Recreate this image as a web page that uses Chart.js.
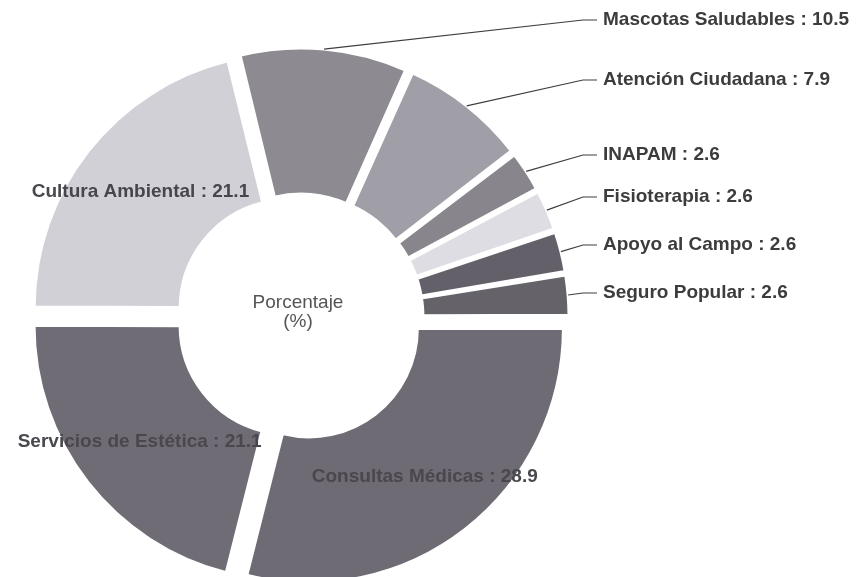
<!DOCTYPE html>
<html>
<head>
<meta charset="utf-8">
<script src="https://cdn.jsdelivr.net/npm/chart.js@4.4.1/dist/chart.umd.min.js"></script>
<style>
  html, body { margin: 0; padding: 0; background: #fff; }
  #wrap { position: relative; width: 865px; height: 577px; }
</style>
</head>
<body>
<div id="wrap"><canvas id="porcentaje-chart"></canvas></div>
<script>
var categories = [
  "Consultas Médicas",
  "Servicios de Estética",
  "Cultura Ambiental",
  "Mascotas Saludables",
  "Atención Ciudadana",
  "INAPAM",
  "Fisioterapia",
  "Apoyo al Campo",
  "Seguro Popular",
];
var porcentajes = [28.9, 21.1, 21.1, 10.5, 7.9, 2.6, 2.6, 2.6, 2.6];
var sliceColors = [
  "#6e6b74",
  "#6f6c75",
  "#d2d0d7",
  "#8d8a92",
  "#a09ea6",
  "#88858d",
  "#dedde3",
  "#636069",
  "#65626a",
];
var centerTitle = ["Porcentaje", "(%)"];

// which slices get their label inside the ring, the rest go to the right column
var insideLabels = [0, 1, 2];
var outsideLabelY = { 3: 20, 4: 80, 5: 155, 6: 197, 7: 245, 8: 293 };

var FONT = "'Liberation Sans', Arial, sans-serif";
var EXPLODE = 15;

function labelText(i) {
  return categories[i] + " : " + porcentajes[i];
}

// chart.js moves an arc by offset/4 * (2 - sin(circumference)),
// so undo that to push every slice out by the same distance
function sliceOffset(c) {
  var total = c.dataset.data.reduce(function (a, b) { return a + b; }, 0),
    circ = (2 * Math.PI * c.dataset.data[c.dataIndex]) / total,
    fix = 1 - Math.sin(Math.min(Math.PI, circ));
  return (4 * EXPLODE) / (1 + fix);
}

var sliceLabels = {
  id: "sliceLabels",
  afterDatasetsDraw(chart) {
    var ctx = chart.ctx,
      arcs = chart.getDatasetMeta(0).data;
    ctx.save();
    ctx.font = "bold 19px " + FONT;
    ctx.textBaseline = "middle";
    arcs.forEach(function (arc, i) {
      var mid = (arc.startAngle + arc.endAngle) / 2,
        cx = arc.x,
        cy = arc.y;
      if (insideLabels.indexOf(i) >= 0) {
        var r = 203;
        ctx.textAlign = "center";
        ctx.fillStyle = i == 2 ? "#48464c" : "#4a474e";
        ctx.fillText(labelText(i), cx + r * Math.cos(mid), cy + r * Math.sin(mid));
        return;
      }
      var ro = arc.outerRadius + EXPLODE,
        sx = cx + ro * Math.cos(mid),
        sy = cy + ro * Math.sin(mid),
        ly = outsideLabelY[i],
        ex = 597,
        elbow = Math.max(sx + 10, 583);
      ctx.strokeStyle = "#3e3e3e";
      ctx.lineWidth = 1.2;
      ctx.beginPath();
      ctx.moveTo(sx, sy);
      ctx.lineTo(elbow, ly);
      ctx.lineTo(ex, ly);
      ctx.stroke();
      ctx.textAlign = "left";
      ctx.fillStyle = "#3c3c3c";
      ctx.fillText(labelText(i), ex + 6, ly);
    });
    var c = arcs[0];
    ctx.font = "19px " + FONT;
    ctx.textAlign = "center";
    ctx.fillStyle = "#555";
    ctx.fillText(centerTitle[0], c.x - 2, c.y - 14);
    ctx.fillText(centerTitle[1], c.x - 2, c.y + 5);
    ctx.restore();
  },
};

new Chart(document.getElementById("porcentaje-chart"), {
  type: "doughnut",
  data: {
    labels: categories,
    datasets: [
      {
        label: "Porcentaje (%)",
        data: porcentajes,
        backgroundColor: sliceColors,
        borderColor: "#ffffff",
        borderWidth: 3,
        offset: sliceOffset,
        hoverOffset: 0,
        clip: false,
      },
    ],
  },
  options: {
    responsive: !0,
    maintainAspectRatio: !1,
    animation: !1,
    rotation: 90,
    radius: 254,
    cutout: "42.5%",
    layout: { padding: { top: 57, right: 265, bottom: 0, left: 0 } },
    plugins: {
      legend: { display: !1 },
      tooltip: { enabled: !1 },
    },
    events: [],
  },
  plugins: [sliceLabels],
});
</script>
</body>
</html>
